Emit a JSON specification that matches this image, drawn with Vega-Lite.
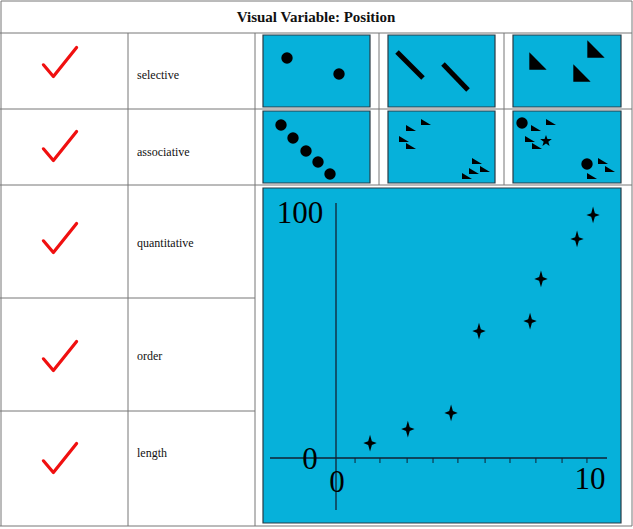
{
"$schema":"https://vega.github.io/schema/vega-lite/v6.json",
"width":633,"height":529,"padding":0,
"autosize":{"type":"none"},
"config":{"view":{"stroke":null}},
"datasets":{
"panels":[{"x":263,"x2":370,"y":35,"y2":107},{"x":388,"x2":495,"y":35,"y2":107},{"x":513,"x2":621,"y":35,"y2":107},
{"x":263,"x2":370,"y":111,"y2":183},{"x":388,"x2":495,"y":111,"y2":183},{"x":513,"x2":621,"y":111,"y2":183},
{"x":263,"x2":621,"y":188,"y2":523}],
"grid":[{"x":1,"x2":632,"y":1,"y2":1},{"x":0,"x2":632,"y":33,"y2":33},{"x":0,"x2":632,"y":109,"y2":109},{"x":0,"x2":632,"y":185,"y2":185},
{"x":0,"x2":255,"y":298,"y2":298},{"x":0,"x2":255,"y":411,"y2":411},{"x":0,"x2":632,"y":526,"y2":526},
{"x":1,"x2":1,"y":1,"y2":526},{"x":632,"x2":632,"y":1,"y2":526},{"x":128,"x2":128,"y":33,"y2":526},{"x":255,"x2":255,"y":33,"y2":526},
{"x":379,"x2":379,"y":33,"y2":185},{"x":504,"x2":504,"y":33,"y2":185}],
"labels":[{"t":"selective","x":137,"y":75},{"t":"associative","x":137,"y":152},{"t":"quantitative","x":137,"y":243},{"t":"order","x":137,"y":356},{"t":"length","x":137,"y":453}],
"checks":[{"x":60,"y":64},{"x":60,"y":148},{"x":60,"y":240},{"x":60,"y":358},{"x":60,"y":460}],
"circles":[{"x":287,"y":58},{"x":339,"y":74},{"x":281,"y":125},{"x":293,"y":138},{"x":306,"y":151},{"x":318,"y":162},{"x":330,"y":174},{"x":522,"y":123},{"x":587,"y":164}],
"segs":[{"x":397,"x2":423,"y":52,"y2":78},{"x":443,"x2":468,"y":64,"y2":90}],
"bigtri":[{"x":538,"y":61},{"x":596,"y":49},{"x":582,"y":73}],
"smalltri":[{"x":426,"y":122},{"x":411,"y":128},{"x":404,"y":139},{"x":411,"y":146},{"x":477,"y":161},{"x":485,"y":169},{"x":474,"y":171},{"x":467,"y":176},
{"x":551,"y":122},{"x":536,"y":128},{"x":530,"y":139},{"x":537,"y":146},{"x":603,"y":161},{"x":610,"y":169},{"x":592,"y":176}],
"star":[{"x":546,"y":141}],
"scatter":[{"v":1.34,"w":6.5},{"v":2.83,"w":12.2},{"v":4.53,"w":18.8},{"v":5.63,"w":52.2},{"v":7.64,"w":56.3},{"v":8.07,"w":73.5},{"v":9.49,"w":89.8},{"v":10.12,"w":99.6}],
"ticks":[{"v":0.75},{"v":1.73},{"v":2.8},{"v":3.82},{"v":4.8},{"v":5.87},{"v":6.85},{"v":7.87},{"v":8.9},{"v":9.88}],
"axes":[{"x":270,"x2":607,"y":458,"y2":458},{"x":336,"x2":336,"y":203,"y2":510}],
"axlab":[{"t":"100","x":300,"y":214},{"t":"0","x":310,"y":460},{"t":"0","x":337,"y":483},{"t":"10","x":590,"y":480}]
},
"layer":[
{"data":{"name":"panels"},"mark":{"type":"rect","fill":"#06b1da","stroke":"#2a3a44","strokeWidth":1.2},
 "encoding":{"x":{"field":"x","type":"quantitative","scale":{"domain":[0,633],"nice":false,"zero":false},"axis":null},"x2":{"field":"x2"},
 "y":{"field":"y","type":"quantitative","scale":{"domain":[0,529],"reverse":true,"nice":false,"zero":false},"axis":null},"y2":{"field":"y2"}}},
{"data":{"name":"grid"},"mark":{"type":"rule","stroke":"#777","strokeWidth":1},
 "encoding":{"x":{"field":"x","type":"quantitative"},"x2":{"field":"x2"},"y":{"field":"y","type":"quantitative"},"y2":{"field":"y2"}}},
{"data":{"values":[{"t":"Visual Variable: Position","x":316,"y":17}]},"mark":{"type":"text","font":"Liberation Serif","fontWeight":"bold","fontSize":15,"color":"#111"},
 "encoding":{"x":{"field":"x","type":"quantitative"},"y":{"field":"y","type":"quantitative"},"text":{"field":"t"}}},
{"data":{"name":"labels"},"mark":{"type":"text","font":"Liberation Serif","fontSize":12,"align":"left","color":"#111"},
 "encoding":{"x":{"field":"x","type":"quantitative"},"y":{"field":"y","type":"quantitative"},"text":{"field":"t"}}},
{"data":{"name":"checks"},"mark":{"type":"point","shape":"M-1,0.05 L-0.4,0.75 L1,-1","filled":false,"stroke":"#f01010","strokeWidth":3.2,"size":1100,"strokeCap":"round","strokeJoin":"round","opacity":1},
 "encoding":{"x":{"field":"x","type":"quantitative"},"y":{"field":"y","type":"quantitative"}}},
{"data":{"name":"circles"},"mark":{"type":"point","shape":"circle","filled":true,"color":"#000","size":130,"opacity":1},
 "encoding":{"x":{"field":"x","type":"quantitative"},"y":{"field":"y","type":"quantitative"}}},
{"data":{"name":"segs"},"mark":{"type":"rule","stroke":"#000","strokeWidth":5},
 "encoding":{"x":{"field":"x","type":"quantitative"},"x2":{"field":"x2"},"y":{"field":"y","type":"quantitative"},"y2":{"field":"y2"}}},
{"data":{"name":"bigtri"},"mark":{"type":"point","shape":"M-1,-1 L1,1 L-1,1 Z","filled":true,"color":"#000","size":300,"opacity":1},
 "encoding":{"x":{"field":"x","type":"quantitative"},"y":{"field":"y","type":"quantitative"}}},
{"data":{"name":"smalltri"},"mark":{"type":"point","shape":"M-1,-0.6 L1,0.6 L-1,0.6 Z","filled":true,"color":"#000","size":100,"opacity":1},
 "encoding":{"x":{"field":"x","type":"quantitative"},"y":{"field":"y","type":"quantitative"}}},
{"data":{"name":"star"},"mark":{"type":"point","shape":"M0,-1 L0.235,-0.324 L0.951,-0.309 L0.38,0.124 L0.588,0.809 L0,0.4 L-0.588,0.809 L-0.38,0.124 L-0.951,-0.309 L-0.235,-0.324 Z","filled":true,"color":"#000","size":150,"opacity":1},
 "encoding":{"x":{"field":"x","type":"quantitative"},"y":{"field":"y","type":"quantitative"}}},
{"data":{"name":"axes"},"mark":{"type":"rule","stroke":"#123","strokeWidth":1.3},
 "encoding":{"x":{"field":"x","type":"quantitative"},"x2":{"field":"x2"},"y":{"field":"y","type":"quantitative"},"y2":{"field":"y2"}}},
{"data":{"name":"ticks"},"transform":[{"calculate":"336+datum.v*25.4","as":"px"},{"calculate":"458","as":"py"},{"calculate":"463","as":"py2"}],
 "mark":{"type":"rule","stroke":"#123","strokeWidth":1},
 "encoding":{"x":{"field":"px","type":"quantitative"},"y":{"field":"py","type":"quantitative"},"y2":{"field":"py2"}}},
{"data":{"name":"scatter"},"transform":[{"calculate":"336+datum.v*25.4","as":"px"},{"calculate":"459-datum.w*2.45","as":"py"}],
 "mark":{"type":"point","shape":"M0,-1 L0.22,-0.22 L0.8,0 L0.22,0.22 L0,1 L-0.22,0.22 L-0.8,0 L-0.22,-0.22 Z","filled":true,"color":"#000","size":280,"opacity":1},
 "encoding":{"x":{"field":"px","type":"quantitative"},"y":{"field":"py","type":"quantitative"}}},
{"data":{"name":"axlab"},"mark":{"type":"text","font":"Liberation Serif","fontSize":31,"color":"#000","baseline":"middle"},
 "encoding":{"x":{"field":"x","type":"quantitative"},"y":{"field":"y","type":"quantitative"},"text":{"field":"t"}}}
]
}
